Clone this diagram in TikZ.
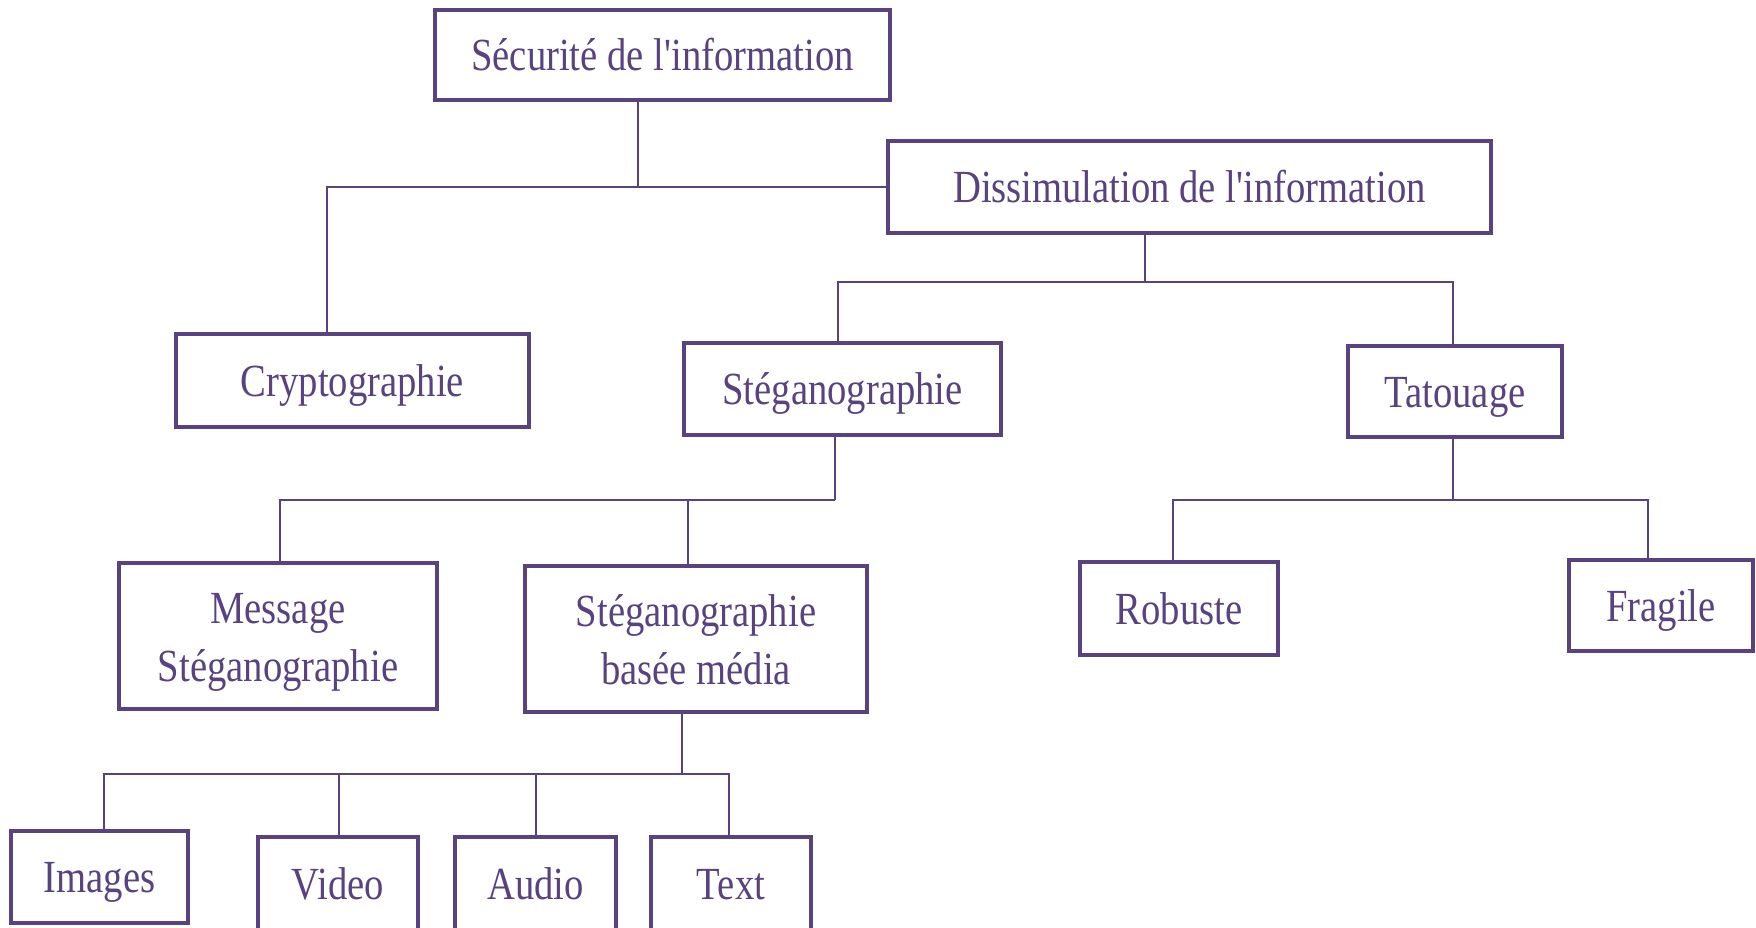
\documentclass[tikz,border=0pt]{standalone}
\usepackage{fontspec}
\setmainfont{Liberation Serif}[FakeStretch=0.84,Ligatures=TeXOff]
\definecolor{pp}{RGB}{88,66,128}
\begin{document}
\begin{tikzpicture}[x=1pt,y=-1pt,
  box/.style={draw=pp,line width=3.8pt,text=pp,inner sep=0pt,align=center,
    font=\fontsize{46}{58}\selectfont},
  one/.style={text height=38pt,text depth=7pt},
  two/.style={text height=95pt,text depth=5pt},
  wire/.style={draw=pp,line width=2.8pt}]
\useasboundingbox (0,0) rectangle (1756,927);
\node[box,one,minimum width=455pt,minimum height=90pt] (sec) at (662.5,55) {Sécurité de l'information};
\node[box,one,minimum width=603pt,minimum height=92pt] (dis) at (1189.5,187) {Dissimulation de l'information};
\node[box,one,minimum width=353pt,minimum height=93pt] (cry) at (352.5,380.5) {Cryptographie};
\node[box,one,minimum width=317pt,minimum height=92pt] (ste) at (842.5,389) {Stéganographie};
\node[box,one,minimum width=214pt,minimum height=91pt] (tat) at (1455,391.5) {Tatouage};
\node[box,two,minimum width=318pt,minimum height=146pt] (msg) at (278,636) {Message\\Stéganographie};
\node[box,two,minimum width=342pt,minimum height=146pt] (med) at (696,639) {Stéganographie\\basée média};
\node[box,one,minimum width=198pt,minimum height=93pt] (rob) at (1179,608.5) {Robuste};
\node[box,one,minimum width=184pt,minimum height=91pt] (fra) at (1661,605.5) {Fragile};
\node[box,one,minimum width=177pt,minimum height=92pt] (img) at (99.5,877) {Images};
\node[box,one,minimum width=160pt,minimum height=94pt] (vid) at (338,884) {Video};
\node[box,one,minimum width=161pt,minimum height=94pt] (aud) at (535.5,884) {Audio};
\node[box,one,minimum width=160pt,minimum height=94pt] (txt) at (731,884) {Text};
% junctions
\coordinate (j1) at (638,187);
\coordinate (c1) at (327,187);
\coordinate (j2) at (1145,282);
\coordinate (l2) at (838,282);
\coordinate (r2) at (1453,282);
\coordinate (j3) at (835,500);
\coordinate (l3) at (280,500);
\coordinate (m3) at (688,500);
\coordinate (j4) at (1453,500);
\coordinate (l4) at (1173,500);
\coordinate (r4) at (1648,500);
\coordinate (j5) at (682,774);
\coordinate (a5) at (104,774);
\coordinate (b5) at (339,774);
\coordinate (c5) at (536,774);
\coordinate (d5) at (729,774);
% connectors
\draw[wire] (sec.south -| j1) -- (j1);
\draw[wire] (dis.west) -- (c1) -- (c1 |- cry.north);
\draw[wire] (dis.south -| j2) -- (j2);
\draw[wire] (l2 |- ste.north) -- (l2) -- (r2) -- (r2 |- tat.north);
\draw[wire] (ste.south -| j3) -- (j3);
\draw[wire] (l3 |- msg.north) -- (l3) -- (j3);
\draw[wire] (m3) -- (m3 |- med.north);
\draw[wire] (tat.south -| j4) -- (j4);
\draw[wire] (l4 |- rob.north) -- (l4) -- (r4) -- (r4 |- fra.north);
\draw[wire] (med.south -| j5) -- (j5);
\draw[wire] (a5 |- img.north) -- (a5) -- (d5) -- (d5 |- txt.north);
\draw[wire] (b5) -- (b5 |- vid.north);
\draw[wire] (c5) -- (c5 |- aud.north);
\end{tikzpicture}
\end{document}
